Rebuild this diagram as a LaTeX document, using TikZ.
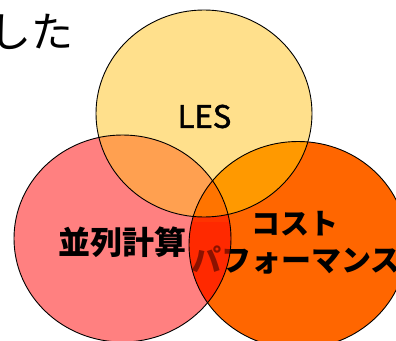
\documentclass[tikz,border=0pt]{standalone}
\usepackage{fontspec}
\newfontfamily\cjk{Noto Sans CJK JP}
\newfontfamily\cjkm{Noto Sans CJK JP}[FakeBold=1.6]
\definecolor{cy}{HTML}{FFE08C}
\definecolor{cp}{HTML}{FF8080}
\definecolor{co}{HTML}{FF6600}
\definecolor{cyp}{HTML}{FFA050}
\definecolor{cyo}{HTML}{FF9900}
\definecolor{cpo}{HTML}{FF3300}
\definecolor{call}{HTML}{FF7400}
\definecolor{lensov}{HTML}{FF2200}
\def\EllT{(204,113.5) ellipse [x radius=108pt, y radius=103.5pt]}
\def\EllP{(122.5,238.5) ellipse [x radius=108.5pt, y radius=103.5pt]}
\def\EllO{(298,245) ellipse [x radius=109pt, y radius=103.5pt]}
\tikzset{
  lbl/.style={inner sep=0pt, text=black},
  rim/.style={draw=black, line width=0.9pt}
}
\begin{document}
\begin{tikzpicture}[x=1pt,y=-1pt]
\useasboundingbox (0,0) rectangle (396,340);
\clip (0,0) rectangle (396,340);
\fill[white] (0,0) rectangle (396,340);
% base fills
\fill[cy] \EllT;
\fill[cp] \EllP;
\fill[co] \EllO;
\begin{scope}
  \clip \EllT;
  \fill[cyp] \EllP;
  \fill[cyo] \EllO;
\end{scope}
\begin{scope}
  \clip \EllP;
  \fill[cpo] \EllO;
\end{scope}
\begin{scope}
  \clip \EllT;
  \clip \EllP;
  \fill[call] \EllO;
\end{scope}
% texts
\node[lbl, font=\cjk\fontsize{42}{48}\selectfont] (shita) at (32,32) {した};
\node[lbl, font=\cjkm\fontsize{31}{36}\selectfont] (les) at (204.5,116.5) {LES};
\node[lbl, font=\cjk\bfseries\fontsize{32}{38}\selectfont] (heiretsu) at (122.5,242.5) {並列計算};
\node[lbl, font=\cjk\bfseries\fontsize{29}{34}\selectfont] (cost) at (295,223.5) {コスト};
\node[lbl, font=\cjk\bfseries\fontsize{30}{35}\selectfont, anchor=west] (perf) at (191,260.5) {パフォーマンス};
% lens overlay darkening the text behind the pink circle
\begin{scope}
  \clip \EllP;
  \clip \EllO;
  \clip (150,222) rectangle (260,340);
  \fill[lensov, opacity=0.55] (150,222) rectangle (260,340);
\end{scope}
% rims
\draw[rim] \EllT;
\draw[rim] \EllP;
\draw[rim] \EllO;
\end{tikzpicture}
\end{document}
